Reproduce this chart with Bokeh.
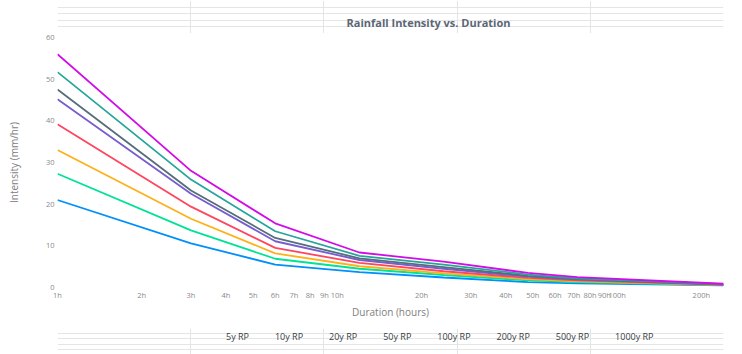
from bokeh.plotting import figure
from bokeh.layouts import column
from bokeh.models import (FixedTicker, Legend, LegendItem, Label, Range1d,
                          ColumnDataSource)
from bokeh.embed import file_html
from bokeh.resources import INLINE

# ---- data ----
durations = [1, 3, 6, 12, 24, 48, 72, 240]
series_names = ["5y RP", "10y RP", "20y RP", "50y RP", "100y RP",
                "200y RP", "500y RP", "1000y RP"]
rp5 = [21.0, 10.6, 5.5, 3.7, 2.4, 1.3, 1.0, 0.5]
rp10 = [27.3, 13.7, 6.9, 4.5, 3.0, 1.7, 1.3, 0.55]
rp20 = [33.0, 16.5, 8.2, 5.1, 3.4, 2.0, 1.5, 0.6]
rp50 = [39.2, 19.4, 9.5, 5.9, 3.9, 2.3, 1.7, 0.65]
rp100 = [45.2, 22.5, 11.1, 6.6, 4.5, 2.6, 1.9, 0.7]
rp200 = [47.5, 23.3, 11.9, 7.0, 4.9, 2.8, 2.0, 0.75]
rp500 = [51.7, 25.9, 13.5, 7.6, 5.5, 3.1, 2.2, 0.8]
rp1000 = [56.0, 28.0, 15.4, 8.4, 6.2, 3.5, 2.5, 0.9]
x_ticks = [1, 2, 3, 4, 5, 6, 7, 8, 9, 10, 20, 30, 40, 50, 60, 70, 80, 90, 100, 200]
x_tick_labels = [f"{t}h" for t in x_ticks]
y_ticks = [0, 10, 20, 30, 40, 50, 60]

all_series = [rp5, rp10, rp20, rp50, rp100, rp200, rp500, rp1000]
colors = ["#008FFB", "#00E396", "#FEB019", "#FF4560", "#775DD0",
          "#546E7A", "#26A69A", "#D10CE8"]

FONT = "Open Sans"


def blank_fig(height):
    f = figure(width=742, height=height, title=None,
               x_range=Range1d(0, 1), y_range=Range1d(0, 1),
               x_axis_location=None, y_axis_location=None,
               output_backend="svg", toolbar_location=None, min_border=0)
    f.outline_line_color = None
    return f


# ---- header: title + button ----
top = blank_fig(33)
top.add_layout(Label(x=371, y=11, x_units="screen", y_units="screen",
                     text="Rainfall Intensity vs. Duration",
                     text_align="center", text_baseline="middle",
                     text_font=FONT, text_font_size="11px",
                     text_font_style="bold", text_color="#5b6675"))
top.add_layout(Label(x=709, y=11, x_units="screen", y_units="screen",
                     text="Copy Data", text_align="center",
                     text_baseline="middle", text_font=FONT,
                     text_font_size="8.5px", text_font_style="bold",
                     text_color="white", background_fill_color="#23679A",
                     padding=6))

# ---- main chart ----
p = figure(width=742, height=295, title=None, x_axis_type="log",
           x_range=Range1d(1, 240), y_range=Range1d(0, 60),
           output_backend="svg", toolbar_location=None,
           min_border_left=57, min_border_right=19, min_border_top=4,
           min_border_bottom=41)
p.outline_line_color = None
p.xgrid.grid_line_color = None
p.ygrid.grid_line_color = None

for xa in [p.xaxis[0], p.yaxis[0]]:
    xa.axis_line_color = None
    xa.major_tick_line_color = None
    xa.minor_tick_line_color = None
    xa.major_tick_out = 0
    xa.major_tick_in = 0
    xa.major_label_text_font = FONT
    xa.major_label_text_font_size = "7.5px"
    xa.major_label_text_color = "#8a8a8a"
    xa.axis_label_text_font = FONT
    xa.axis_label_text_font_size = "10px"
    xa.axis_label_text_font_style = "normal"
    xa.axis_label_text_color = "#808080"

p.xaxis.ticker = FixedTicker(ticks=x_ticks, minor_ticks=[])
p.xaxis.major_label_overrides = {t: l for t, l in zip(x_ticks, x_tick_labels)}
p.xaxis.major_label_standoff = 2
p.xaxis.axis_label = "Duration (hours)"
p.xaxis.axis_label_standoff = 2

p.yaxis.ticker = FixedTicker(ticks=y_ticks, minor_ticks=[])
p.yaxis.major_label_standoff = 3
p.yaxis.axis_label = "Intensity (mm/hr)"
p.yaxis.axis_label_standoff = 22

for vals, c in zip(all_series, colors):
    src = ColumnDataSource(dict(x=durations, y=vals))
    p.line("x", "y", source=src, line_color=c, line_width=1.8)

# ---- legend strip ----
leg = blank_fig(26)
items = []
for name, c in zip(series_names, colors):
    proxy = leg.quad(left=[], right=[], top=[], bottom=[],
                     fill_color=c, line_color=c)
    items.append(LegendItem(label=name, renderers=[proxy]))

legend = Legend(items=items, orientation="horizontal", location=(151, 10),
                label_text_font=FONT, label_text_font_size="9px",
                label_text_color="#373d3f", glyph_width=16, glyph_height=16,
                label_height=16, spacing=8, label_standoff=2,
                border_line_color=None, background_fill_alpha=0,
                padding=0, margin=0)
leg.add_layout(legend)

layout = column(top, p, leg, spacing=0)

open("out.html", "w").write(file_html(layout, INLINE))
